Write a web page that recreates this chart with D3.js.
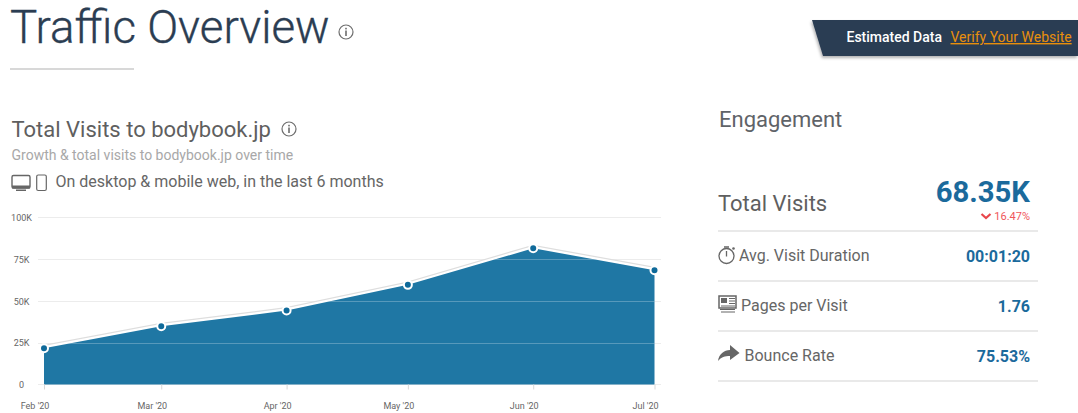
<!DOCTYPE html>
<html><head><meta charset="utf-8">
<script src="https://cdn.jsdelivr.net/npm/d3@7/dist/d3.min.js"></script>
<style>
html,body{margin:0;padding:0;background:#fff;overflow:hidden}
svg{display:block;font-family:Roboto,sans-serif}
</style></head><body><svg id="c" width="1078" height="413"></svg>
<script>
const monthDates = ["2020-02-01","2020-03-01","2020-04-01","2020-05-01","2020-06-01","2020-07-01"];
const monthLabels = ["Feb '20","Mar '20","Apr '20","May '20","Jun '20","Jul '20"];
const visits = [21600,34800,44200,59600,81500,68350];
const yTicks = [0,25000,50000,75000,100000];
const yTickLabels = ["0","25K","50K","75K","100K"];
const metricLabels = ["Avg. Visit Duration","Pages per Visit","Bounce Rate"];
const metricValues = ["00:01:20","1.76","75.53%"];

const svg = d3.select("#c");
const dates = monthDates.map(d=>new Date(d+"T00:00:00Z"));
const x = d3.scaleUtc().domain([dates[0],dates[5]]).range([44,654.5]);
const y = d3.scaleLinear().domain([0,100000]).range([384.4,217.4]);
const T=(s,px,py,size,fill,w,anchor)=>svg.append("text").attr("x",px).attr("y",py).attr("font-size",size).attr("fill",fill).attr("font-weight",w||400).attr("text-anchor",anchor||"start").text(s);
const info=(cx,cy)=>{const g=svg.append("g").attr("transform",`translate(${cx},${cy})`);
 g.append("circle").attr("r",7).attr("fill","none").attr("stroke","#6d6d6d").attr("stroke-width",1.2);
 g.append("rect").attr("x",-0.8).attr("y",-1.5).attr("width",1.6).attr("height",5.5).attr("fill","#6d6d6d");
 g.append("rect").attr("x",-0.8).attr("y",-4.2).attr("width",1.6).attr("height",1.6).attr("fill","#6d6d6d");};

// header
T("Traffic Overview",10,43,45.7,"#2b3d52",300).attr("stroke","#2b3d52").attr("stroke-width",0.35);
info(346,32);
svg.append("rect").attr("x",10).attr("y",68).attr("width",124).attr("height",2).attr("fill","#d8d8d8");

const defs=svg.append("defs");
const f=defs.append("filter").attr("id","sh").attr("x","-5%").attr("y","-20%").attr("width","110%").attr("height","150%");
f.append("feDropShadow").attr("dx",-1).attr("dy",2).attr("stdDeviation",1.5).attr("flood-color","#000").attr("flood-opacity",0.3);
svg.append("path").attr("d","M812,20H1078V56H823Z").attr("fill","#2b3d52").attr("filter","url(#sh)");
T("Estimated Data",846.5,42,14,"#fff",500);
T("Verify Your Website",950.5,42,14,"#e88f0c",400).attr("text-decoration","underline");

// left headings
T("Total Visits to bodybook.jp",11.5,137,22,"#5f5f5f",400);
info(289,129);
T("Growth & total visits to bodybook.jp over time",11.5,160,14,"#a8a8a8",400);
T("On desktop & mobile web, in the last 6 months",55.5,187,16,"#666",400);
// desktop / phone icons
svg.append("rect").attr("x",12).attr("y",175.5).attr("width",18).attr("height",12.5).attr("rx",1.5).attr("fill","none").attr("stroke","#666").attr("stroke-width",1.4);
svg.append("rect").attr("x",12).attr("y",185.5).attr("width",18).attr("height",3).attr("fill","#666");
svg.append("rect").attr("x",16).attr("y",189.5).attr("width",10).attr("height",1.5).attr("fill","#666");
svg.append("rect").attr("x",36.7).attr("y",175).attr("width",9.6).attr("height",15.5).attr("rx",1.5).attr("fill","none").attr("stroke","#666").attr("stroke-width",1.2);

// grid + y axis
const yAxis=d3.axisLeft(y).tickValues(yTicks).tickSize(0).tickPadding(0).tickFormat((d,i)=>yTickLabels[i]);
const gy=svg.append("g").attr("transform","translate(21.5,0)").call(yAxis);
gy.select(".domain").remove();
gy.selectAll("text").attr("font-family","Roboto,sans-serif").attr("font-size",9).attr("fill","#666").attr("dy","0.36em").attr("text-anchor","middle");
svg.append("g").selectAll("line").data(yTicks).join("line")
 .attr("x1",38).attr("x2",661).attr("y1",d=>Math.round(y(d))+.5).attr("y2",d=>Math.round(y(d))+.5).attr("stroke","#ececec");

// area
const pts=dates.map((d,i)=>({d,v:visits[i]}));
const lineGen=d3.line().x(p=>x(p.d)).y(p=>y(p.v));
svg.append("path").datum(pts).attr("d",lineGen).attr("fill","none").attr("stroke","#dedede").attr("stroke-width",2).attr("transform","translate(0,-2.5)");
svg.append("path").datum(pts).attr("d",lineGen).attr("fill","none").attr("stroke","#fff").attr("stroke-width",2.5).attr("transform","translate(0,-1)");
svg.append("path").datum(pts).attr("d",d3.area().x(p=>x(p.d)).y0(y(0)).y1(p=>y(p.v))).attr("fill","#1f77a4");
// gridlines seen through the area
const clip=defs.append("clipPath").attr("id","ac");
clip.append("path").datum(pts).attr("d",d3.area().x(p=>x(p.d)).y0(y(0)).y1(p=>y(p.v)));
svg.append("g").attr("clip-path","url(#ac)").selectAll("line").data(yTicks.slice(1)).join("line")
 .attr("x1",38).attr("x2",661).attr("y1",d=>Math.round(y(d))+.5).attr("y2",d=>Math.round(y(d))+.5).attr("stroke","#fff").attr("stroke-opacity",.25);

// x axis
const xAxis=d3.axisBottom(x).tickValues(dates).tickSize(5).tickPadding(13).tickFormat((d,i)=>monthLabels[i]);
const gx=svg.append("g").attr("transform","translate(0,384.5)").call(xAxis);
gx.select(".domain").remove();
gx.selectAll("line").attr("stroke","#d8d8d8");
gx.selectAll("text").attr("font-family","Roboto,sans-serif").attr("font-size",9).attr("fill","#666").attr("dx",-9.5);

// points
svg.append("g").selectAll("circle").data(pts).join("circle")
 .attr("cx",p=>x(p.d)).attr("cy",p=>y(p.v)).attr("r",4).attr("fill","#0f6a9a").attr("stroke","#fff").attr("stroke-width",2);

// engagement
T("Engagement",719,127,22,"#5f6368",400);
T("Total Visits",718,211,22,"#5f5f5f",400);
T("68.35K",1030,201.5,29.3,"#1b6a9c",700,"end");
T("16.47%",1030,220,11,"#f0565a",400,"end");
svg.append("path").attr("d","M981.5,214l4.5,4l4.5,-4").attr("fill","none").attr("stroke","#e8474c").attr("stroke-width",2.2);
const ruleY=[231,281,331,381];
svg.append("g").selectAll("line").data(ruleY).join("line").attr("x1",718).attr("x2",1038).attr("y1",d=>d).attr("y2",d=>d).attr("stroke","#e9e9e9").attr("stroke-width",2);
const labelX=[739,741,744.5], rowY=[261,311,361];
metricLabels.forEach((m,i)=>{T(m,labelX[i],rowY[i],16,"#666",400);T(metricValues[i],1030,rowY[i]+1,16,"#1b6a9c",700,"end");});
// icons
const ic=svg.append("g");
ic.append("circle").attr("cx",726.5).attr("cy",256).attr("r",7.5).attr("fill","none").attr("stroke","#666").attr("stroke-width",1.3);
ic.append("path").attr("d","M726.5,251V256.5M724,247H729").attr("stroke","#666").attr("stroke-width",1.3).attr("fill","none");
ic.append("circle").attr("cx",733.5).attr("cy",248.5).attr("r",1.3).attr("fill","#666");
ic.append("rect").attr("x",719).attr("y",296).attr("width",17).attr("height",12).attr("fill","#fff").attr("stroke","#666").attr("stroke-width",1.5);
ic.append("rect").attr("x",721).attr("y",298).attr("width",6).attr("height",5).attr("fill","#666");
ic.append("path").attr("d","M729,298.5H735M729,301H735M729,303.5H735M721,306H735").attr("stroke","#666");
ic.append("path").attr("d","M720,309.5H735M721,312H735").attr("stroke","#666").attr("stroke-width",1.2);
ic.append("path").attr("d","M718,361C719,354 724,350 730,350V345L739.5,353L730,360V356C725,356 721,357 718,361Z").attr("fill","#666");
</script></body></html>
